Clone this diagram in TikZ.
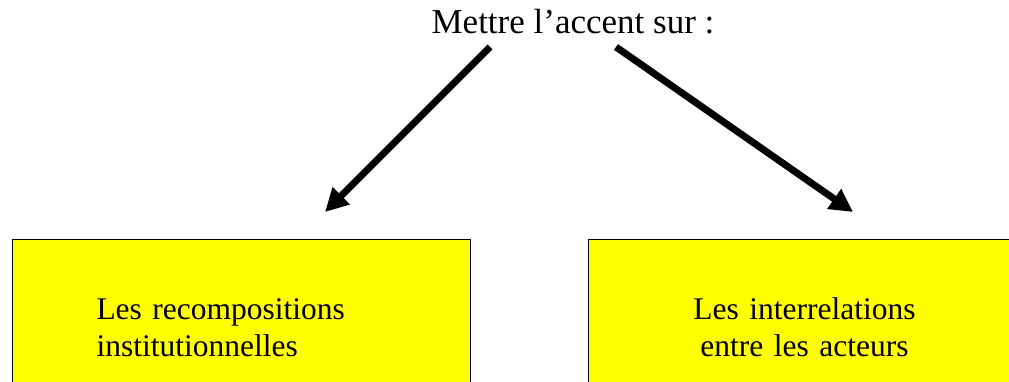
\documentclass[tikz,border=0pt]{standalone}
\usepackage{fontspec}
\setmainfont{Liberation Serif}
\usetikzlibrary{arrows.meta, positioning}
\definecolor{jaune}{RGB}{255,255,0}
\tikzstyle{bloc}   = [rectangle, draw=black, line width=1pt, fill=jaune,
                      minimum height=176pt, inner ysep=0pt,
                      font=\fontsize{31.5}{37}\selectfont]
\tikzstyle{fleche} = [line width=7pt, -{Triangle[length=23pt, width=23pt]}]

\begin{document}
\begin{tikzpicture}[x=1pt, y=-1pt]
  \useasboundingbox (0,0) rectangle (1009,381);

  % Title
  \node (titre) [anchor=base, inner sep=0pt, font=\fontsize{35}{40}\selectfont]
        at (573,33) {Mettre l'accent sur :};

  % Boxes
  \node (recomp) [bloc, anchor=north west, minimum width=458pt, inner xsep=84pt,
                  text width=290pt, align=left] at (12,239)
                  {Les recompositions\\institutionnelles};
  \node (interrel) [bloc, anchor=north west, minimum width=432pt, inner xsep=66pt,
                    text width=300pt, align=center] at (588,239)
                    {Les interrelations\\entre les acteurs};

  % Arrow ends
  \coordinate (depG) at (490,47);
  \coordinate (finG) at (325,212);
  \coordinate (depD) at (616,47);
  \coordinate (finD) at (853,212);

  \draw[fleche] (depG) -- (finG);
  \draw[fleche] (depD) -- (finD);
\end{tikzpicture}
\end{document}
